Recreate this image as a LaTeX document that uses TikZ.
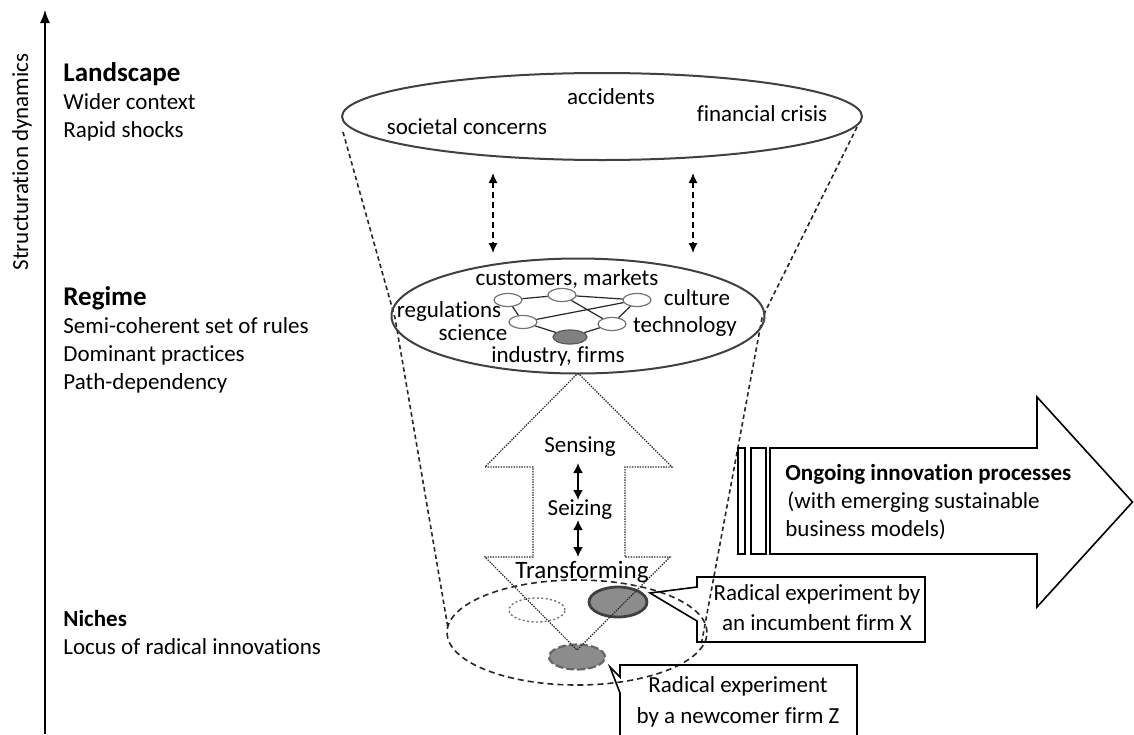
\documentclass[tikz,border=0pt]{standalone}
\usepackage{fontspec}
\setmainfont{Carlito}[Ligatures={NoCommon}]
\usetikzlibrary{shapes.geometric,arrows.meta}
\begin{document}
\begin{tikzpicture}[x=0.5pt,y=-0.5pt,
  txt/.style={font=\fontsize{11.5}{13}\selectfont, inner sep=0pt, text=black},
  txtb/.style={font=\fontsize{11.5}{13}\selectfont\bfseries, inner sep=0pt, text=black},
  head/.style={font=\fontsize{13.5}{15}\selectfont\bfseries, inner sep=0pt, text=black},
  bigell/.style={ellipse, draw=black!75, line width=1pt, inner sep=0pt},
  netn/.style={ellipse, draw=black!55, line width=0.6pt, fill=white, minimum width=14pt, minimum height=6.5pt, inner sep=0pt},
  netedge/.style={draw=black!85, line width=0.6pt},
  funnel/.style={draw=black!85, dash pattern=on 2.2pt off 1.6pt, line width=0.8pt},
  dbl/.style={{Latex[length=5pt,width=4.5pt]}-{Latex[length=5pt,width=4.5pt]}, dash pattern=on 3pt off 2pt, line width=0.7pt},
  sdbl/.style={{Latex[length=5pt,width=5pt]}-{Latex[length=5pt,width=5pt]}, line width=0.9pt},
  boxline/.style={draw=black, line width=0.8pt, line join=miter}
]
\useasboundingbox (0,0) rectangle (1134,734);
\clip (0,0) rectangle (1134,734);

% axis
\coordinate (ax0) at (45,734);
\coordinate (ax1) at (45,10);
\draw[-{Latex[length=6.5pt,width=5pt]}, line width=0.6pt] (ax0) -- (ax1);
\node[txt, rotate=90] (axl) at (22,162) {Structuration dynamics};

% left texts
\node[head, anchor=base west] (l1) at (63,81) {Landscape};
\node[txt, anchor=base west] (l2) at (63,109) {Wider context};
\node[txt, anchor=base west] (l3) at (63,137) {Rapid shocks};
\node[head, anchor=base west] (r1) at (63,305) {Regime};
\node[txt, anchor=base west] (r2) at (63,333) {Semi-coherent set of rules};
\node[txt, anchor=base west] (r3) at (63,361) {Dominant practices};
\node[txt, anchor=base west] (r4) at (63,389) {Path-dependency};
\node[txtb, anchor=base west] (n1t) at (63,626) {Niches};
\node[txt, anchor=base west] (n2t) at (63,654) {Locus of radical innovations};

% funnel
\coordinate (fl1) at (343,132);
\coordinate (fl2) at (395,318);
\coordinate (fl3) at (448,628);
\coordinate (fr1) at (857,127);
\coordinate (fr2) at (762,318);
\coordinate (fr3) at (701,646);
\draw[funnel] (fl1) -- (fl2) -- (fl3);
\draw[funnel] (fr1) -- (fr2) -- (fr3);

% landscape ellipse
\node[bigell, minimum width=260pt, minimum height=43.5pt] (land) at (602,116.5) {};
\node[txt, anchor=base] (acc) at (611,104) {accidents};
\node[txt, anchor=base] (soc) at (467,134) {societal concerns};
\node[txt, anchor=base] (fin) at (762,121) {financial crisis};

% dashed double arrows
\coordinate (da1) at (493,173);
\coordinate (da2) at (493,253);
\coordinate (db1) at (693,173);
\coordinate (db2) at (693,253);
\draw[dbl] (da1) -- (da2);
\draw[dbl] (db1) -- (db2);

% regime ellipse
\node[bigell, minimum width=186.5pt, minimum height=57.5pt] (reg) at (578,316) {};
\node[netn] (a) at (508,300) {};
\node[netn] (b) at (562,295) {};
\node[netn] (c) at (637,300) {};
\node[netn] (d) at (523,322) {};
\node[netn] (e) at (612,324) {};
\node[netn, fill=black!50, draw=black!65, minimum width=17pt, minimum height=7pt] (f) at (570,337) {};
\draw[netedge] (a) -- (b);
\draw[netedge] (b) -- (c);
\draw[netedge] (b) -- (e);
\draw[netedge] (d) -- (c);
\draw[netedge] (d) -- (f);
\draw[netedge] (f) -- (e);
\draw[netedge] (c) -- (e);
\draw[netedge] (a) -- (d);
\node[txt, anchor=base] (cm) at (567,285) {customers, markets};
\node[txt, anchor=base] (cu) at (697,305) {culture};
\node[txt, anchor=base] (rg) at (449,317) {regulations};
\node[txt, anchor=base] (sc) at (473,340) {science};
\node[txt, anchor=base] (te) at (685,332) {technology};
\node[txt, anchor=base] (in) at (558,362) {industry, firms};

% niche ellipse
\node[ellipse, draw=black!85, dash pattern=on 3pt off 2pt, line width=0.8pt, minimum width=130pt, minimum height=52.5pt, inner sep=0pt] (niche) at (577,632.5) {};
\node[ellipse, draw=black!55, dash pattern=on 1pt off 1.2pt, line width=0.7pt, minimum width=28pt, minimum height=12pt, inner sep=0pt] (dot) at (537,610) {};
\node[ellipse, fill=black!45, draw=black!75, line width=1.4pt, minimum width=29pt, minimum height=15pt, inner sep=0pt] (inc) at (618,602) {};
\node[ellipse, fill=black!45, draw=black!60, dash pattern=on 4pt off 1.5pt, line width=1.1pt, minimum width=28pt, minimum height=12.5pt, inner sep=0pt] (new) at (577,657) {};

% central arrow
\draw[draw=black!85, line width=0.6pt, dash pattern=on 0.7pt off 0.6pt]
  (578,373) -- (672,467) -- (625,467) -- (625,557) -- (670,557) -- (577,650)
  -- (485,557) -- (533,557) -- (533,467) -- (485,467) -- cycle;
\node[txt, anchor=base] (sens) at (580,452) {Sensing};
\node[txt, anchor=base] (seiz) at (580,515) {Seizing};
\node[font=\fontsize{12.5}{14}\selectfont, inner sep=0pt, anchor=base] (trans) at (582,578) {Transforming};
\coordinate (s1) at (578,463);
\coordinate (s2) at (578,500);
\coordinate (s3) at (578,520);
\coordinate (s4) at (578,557);
\draw[sdbl] (s1) -- (s2);
\draw[sdbl] (s3) -- (s4);

% callout X
\coordinate (xtip) at (650,593);
\draw[boxline] (xtip) -- (697,587) -- (697,577) -- (925,577) -- (925,642) -- (697,642) -- (697,621) -- cycle;
\node[txt, anchor=base] (x1) at (817,600) {Radical experiment by};
\node[txt, anchor=base] (x2) at (817,630) {an incumbent firm X};

% callout Z
\coordinate (ztip) at (610,667);
\draw[boxline] (ztip) -- (620,677) -- (620,665) -- (857,665) -- (857,745) -- (620,745) -- (620,693) -- cycle;
\node[txt, anchor=base] (z1) at (738,692) {Radical experiment};
\node[txt, anchor=base] (z2) at (738,723) {by a newcomer firm Z};

% right arrow
\draw[boxline] (770,448) -- (1037,448) -- (1037,397) -- (1132.5,502) -- (1037,607) -- (1037,554) -- (770,554) -- cycle;
\draw[boxline] (738,448) rectangle (745,554);
\draw[boxline] (751,448) rectangle (766,554);
\node[txtb, anchor=base west] (o1) at (785,480) {Ongoing innovation processes};
\node[txt, anchor=base west] (o2) at (787,508) {(with emerging sustainable};
\node[txt, anchor=base west] (o3) at (785,536) {business models)};
\end{tikzpicture}
\end{document}
